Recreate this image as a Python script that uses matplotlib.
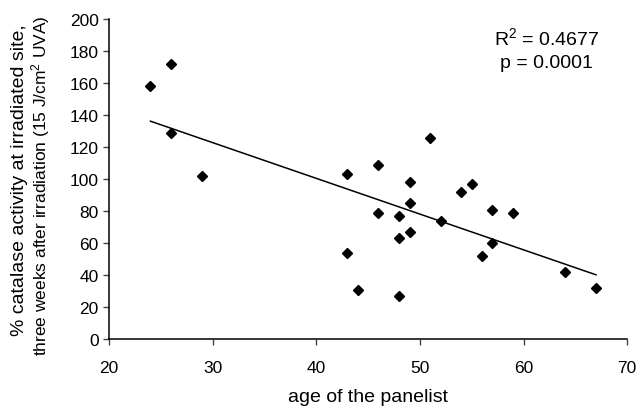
import numpy as np
from matplotlib import pyplot as plt

# age of each panelist and catalase activity (% at irradiated site)
ages = [24, 26, 26, 29, 43, 43, 44, 46, 46, 48, 48, 48, 49, 49, 49,
        51, 52, 54, 55, 56, 57, 57, 59, 64, 67]
activity = [158, 172, 129, 102, 103, 54, 31, 109, 79, 77, 63, 27, 98, 85,
            67, 126, 74, 92, 97, 52, 81, 60, 79, 42, 32]
x_ticks = [20, 30, 40, 50, 60, 70]
y_ticks = [0, 20, 40, 60, 80, 100, 120, 140, 160, 180, 200]
stats_text = ["R$^2$ = 0.4677", "p = 0.0001"]


def main() -> None:
    """Scatter of catalase activity against age with a linear trend."""
    plt.rcParams["font.family"] = ["Liberation Sans", "DejaVu Sans"]
    plt.rcParams["mathtext.fontset"] = "custom"
    plt.rcParams["mathtext.rm"] = "Liberation Sans"
    plt.rcParams["mathtext.it"] = "Liberation Sans"

    fig = plt.figure(figsize=(6.4, 4.1), dpi=100)
    ax = fig.add_axes([0.1703, 0.170, 0.8097, 0.781])

    ax.plot(ages, activity, linestyle="none", marker="D", markersize=5,
            color="black")

    slope, intercept = np.polyfit(ages, activity, 1)
    line_x = np.array([min(ages), max(ages)])
    ax.plot(line_x, slope * line_x + intercept, color="black", linewidth=1.1)

    ax.set_xlim(20, 70)
    ax.set_ylim(0, 200)
    ax.set_xticks(x_ticks)
    ax.set_yticks(y_ticks)
    ax.tick_params(labelsize=12.5, length=4, width=1, direction="out",
                   color="#444444")
    ax.tick_params(axis="x", pad=11)
    ax.spines["top"].set_visible(False)
    ax.spines["right"].set_visible(False)
    for side in ("left", "bottom"):
        ax.spines[side].set_linewidth(1.1)

    ax.set_xlabel("age of the panelist", fontsize=14, labelpad=9)

    ax.text(62.2, 189, stats_text[0], fontsize=14, ha="center", va="center")
    ax.text(62.2, 173, stats_text[1], fontsize=14, ha="center", va="center")

    fig.text(0.030, 0.561, "% catalase activity at irradiated site,",
             rotation=90, fontsize=14, ha="center", va="center")
    fig.text(0.064, 0.546,
             "three weeks after irradiation (15 J/cm$^2$ UVA)",
             rotation=90, fontsize=12.5, ha="center", va="center")

    fig.savefig("out.png", dpi=100)


if __name__ == "__main__":
    main()
